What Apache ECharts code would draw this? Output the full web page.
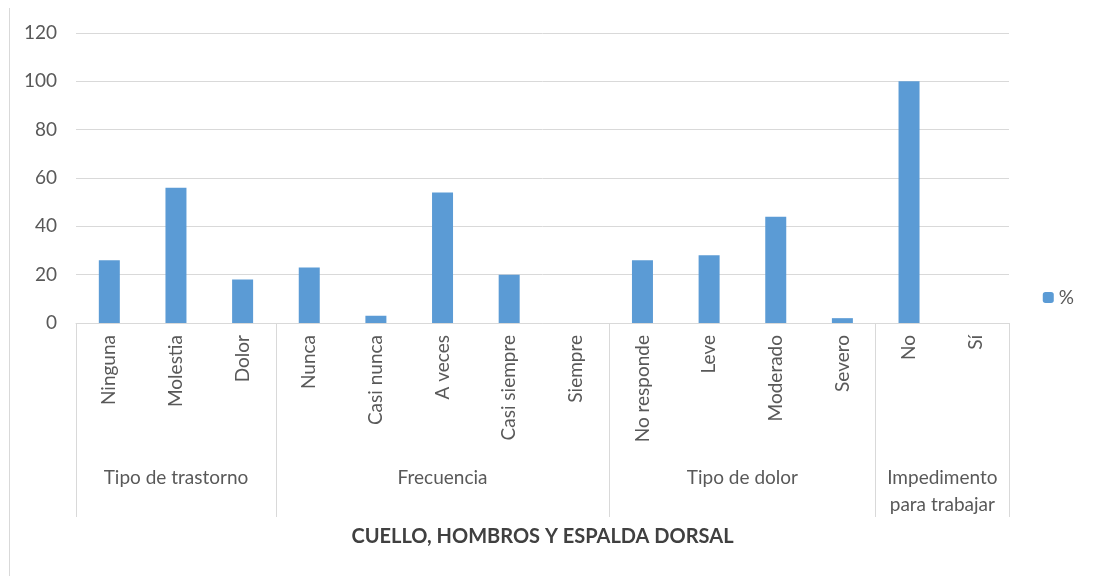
<!DOCTYPE html>
<html>
<head>
<meta charset="utf-8">
<script src="https://cdn.jsdelivr.net/npm/echarts@6/dist/echarts.min.js"></script>
<style>
  html, body { margin: 0; padding: 0; background: #fff; }
  #main { width: 1097px; height: 576px; }
</style>
</head>
<body>
<div id="main"></div>
<script>
    // datos
    const categories = ['Ninguna', 'Molestia', 'Dolor', 'Nunca', 'Casi nunca', 'A veces', 'Casi siempre', 'Siempre',
        'No responde', 'Leve', 'Moderado', 'Severo', 'No', 'Sí'];
    const values = [26, 56, 18, 23, 3, 54, 20, 0, 26, 28, 44, 2, 100, 0];
    const groupNames = ['Tipo de trastorno', 'Frecuencia', 'Tipo de dolor', 'Impedimento\npara trabajar'];
    const groupSizes = [3, 5, 4, 2];
    const yTicks = [0, 20, 40, 60, 80, 100, 120];

    // limites y centros de cada grupo en unidades de categoria
    const bounds = [0];
    const centers = [];
    groupSizes.forEach(function (n) {
        const start = bounds[bounds.length - 1];
        centers.push(start + n / 2);
        bounds.push(start + n);
    });

    const font = 'Lato, "Open Sans", sans-serif';
    const grey = '#595959';
    const lineGrey = '#d9d9d9';
    const fs = 19;

    var myChart = echarts.init(document.getElementById('main'));
    option = {
        animation: false,
        textStyle: { fontFamily: font },
        grid: { left: 76, right: 88, top: 33, bottom: 253 },
        legend: {
            data: ['%'],
            right: 18,
            top: 283,
            orient: 'vertical',
            itemWidth: 11,
            itemHeight: 11,
            itemGap: 4,
            textStyle: { color: grey, fontSize: fs, fontFamily: font }
        },
        graphic: [{
            type: 'line',
            shape: { x1: 9.5, y1: 8, x2: 9.5, y2: 576 },
            style: { stroke: lineGrey, lineWidth: 1 }
        }],
        xAxis: [
            {
                type: 'category',
                data: categories,
                axisLine: { lineStyle: { color: lineGrey, width: 1 } },
                axisTick: { show: false },
                axisLabel: {
                    rotate: 90,
                    interval: 0,
                    margin: 12,
                    color: grey,
                    fontSize: fs,
                    fontFamily: font
                }
            },
            {
                type: 'value',
                min: 0,
                max: categories.length,
                position: 'bottom',
                axisLine: { show: false },
                splitLine: { show: false },
                axisTick: {
                    show: true,
                    customValues: bounds,
                    length: 194,
                    lineStyle: { color: lineGrey, width: 1 }
                },
                axisLabel: {
                    customValues: centers,
                    margin: 141,
                    color: grey,
                    fontSize: fs,
                    lineHeight: 27,
                    fontFamily: font,
                    formatter: function (v) {
                        const i = centers.indexOf(v);
                        return i >= 0 ? groupNames[i] : '';
                    }
                },
                name: 'CUELLO, HOMBROS Y ESPALDA DORSAL',
                nameLocation: 'middle',
                nameGap: 204,
                nameTextStyle: { color: '#404040', fontSize: 20, fontWeight: 'bold', fontFamily: font }
            }
        ],
        yAxis: {
            type: 'value',
            min: yTicks[0],
            max: yTicks[yTicks.length - 1],
            interval: 20,
            axisLine: { show: false },
            axisTick: { show: false },
            axisLabel: { color: grey, fontSize: fs, margin: 19, fontFamily: font },
            splitLine: { lineStyle: { color: lineGrey, width: 1 } }
        },
        series: [
            {
                name: '%',
                type: 'bar',
                xAxisIndex: 0,
                barWidth: 21,
                itemStyle: { color: '#5b9bd5' },
                data: values
            }
        ]
    };
    myChart.setOption(option);
</script>
</body>
</html>
